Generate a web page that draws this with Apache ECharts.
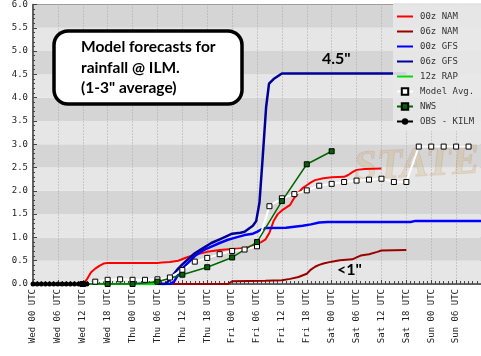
<!DOCTYPE html>
<html>
<head>
<meta charset="utf-8">
<script src="https://cdn.jsdelivr.net/npm/echarts@6/dist/echarts.min.js"></script>
<style>html,body{margin:0;padding:0;background:#fff;}#c{width:481px;height:356px;}</style>
</head>
<body>
<div id="c"></div>
<script>
// hours since Wed 00 UTC
const tickLabels = ['Wed 00 UTC','Wed 06 UTC','Wed 12 UTC','Wed 18 UTC','Thu 00 UTC','Thu 06 UTC','Thu 12 UTC','Thu 18 UTC','Fri 00 UTC','Fri 06 UTC','Fri 12 UTC','Fri 18 UTC','Sat 00 UTC','Sat 06 UTC','Sat 12 UTC','Sat 18 UTC','Sun 00 UTC','Sun 06 UTC'];
const seriesNames = ['00z NAM','06z NAM','00z GFS','06z GFS','12z RAP','Model Avg.','NWS','OBS - KILM'];

const nam00 = [[0,0],[12,0],[13,0.1],[14,0.25],[15,0.33],[16,0.39],[17,0.44],[18,0.45],[30,0.45],[31,0.46],[33,0.47],[35,0.5],[37,0.57],[39,0.63],[42,0.69],[45,0.73],[48,0.75],[51,0.77],[53,0.82],[54,0.86],[55,0.9],[56,0.95],[57,1.1],[58,1.35],[59,1.5],[60,1.58],[61,1.64],[62,1.7],[63,1.85],[64,1.96],[65,2.06],[66,2.12],[67,2.18],[68,2.23],[70,2.27],[72,2.29],[75,2.3],[76,2.34],[77,2.4],[78,2.45],[80,2.47],[84,2.48]];
const nam06 = [[30,0],[47,0],[48,0.06],[56,0.07],[60,0.08],[62,0.11],[64,0.15],[66,0.22],[67,0.31],[68,0.37],[69,0.41],[70,0.44],[72,0.48],[74,0.51],[77,0.53],[78,0.57],[79,0.61],[81,0.64],[83,0.69],[84,0.72],[90,0.73]];
const gfs00 = [[24,0],[33,0],[34,0.05],[35,0.2],[36,0.33],[37,0.42],[39,0.6],[41,0.72],[43,0.8],[45,0.88],[47,0.95],[49,1.0],[51,1.05],[53,1.08],[54,1.12],[55,1.17],[56,1.2],[61,1.21],[65,1.25],[67,1.28],[69,1.32],[71,1.33],[91,1.33],[92,1.35],[108,1.35]];
const gfs06 = [[30,0],[32,0],[33,0.1],[34,0.22],[35,0.33],[36,0.42],[38,0.58],[39,0.66],[41,0.77],[43,0.88],[45,0.96],[47,1.04],[48,1.08],[50,1.1],[51,1.12],[53,1.25],[53.8,1.35],[54.6,1.75],[55.4,2.75],[56.2,3.8],[56.9,4.3],[58,4.4],[60,4.52],[90,4.52]];
const rap12 = [[12,0],[18,0],[24,0],[30,0]];
const modelAvg = [[12,0],[15,0.05],[18,0.09],[21,0.1],[24,0.09],[27,0.09],[30,0.1],[33,0.14],[36,0.3],[39,0.48],[42,0.56],[45,0.64],[48,0.71],[51,0.74],[54,0.81],[57,1.67],[60,1.84],[63,1.93],[66,2.01],[69,2.11],[72,2.15],[75,2.19],[78,2.22],[81,2.24],[84,2.26],[87,2.19],[90,2.19],[93,2.95],[96,2.95],[99,2.95],[102,2.95],[105,2.95]];
const nws = [[12,0],[18,0],[24,0],[30,0.05],[36,0.2],[42,0.36],[48,0.57],[54,0.9],[60,1.78],[66,2.57],[72,2.85]];
const obs = [[0,0],[1,0],[2,0],[3,0],[4,0],[5,0],[6,0],[7,0],[8,0],[9,0],[10,0],[11,0],[12,0],[13,0]];

const mono = 'DejaVu Sans Mono';
const chart = echarts.init(document.getElementById('c'), null, {renderer:'canvas'});

function lineSeries(name, data, color, width, extra) {
  return Object.assign({
    name: name, type: 'line', data: data, symbol: 'none', showSymbol: false,
    lineStyle: {color: color, width: width}, itemStyle: {color: color},
    animation: false
  }, extra || {});
}
const noMark = {color: 'rgba(0,0,0,0)', borderWidth: 0};

chart.setOption({
  animation: false,
  backgroundColor: '#fff',
  grid: {left: 33, top: 3, right: -11, bottom: 72, show: true, borderColor: '#666', borderWidth: 1},
  xAxis: {
    type: 'value', min: 0, max: 108, interval: 6,
    axisLine: {show: true, lineStyle: {color: '#444', width: 1.5}},
    axisTick: {show: true, inside: true, length: 4, lineStyle: {color: '#444'}},
    minorTick: {show: true, splitNumber: 6, length: 3, lineStyle: {color: '#444'}},
    splitLine: {show: true, lineStyle: {color: '#a8a8a8', type: [1, 2], width: 1}},
    axisLabel: {
      rotate: 90, fontFamily: mono, fontSize: 9, color: '#222', margin: 5,
      formatter: function (v) { const i = v / 6; return (Number.isInteger(i) && i < tickLabels.length) ? tickLabels[i] : ''; }
    }
  },
  yAxis: {
    type: 'value', min: 0, max: 6, interval: 0.5,
    axisLine: {show: true, lineStyle: {color: '#444', width: 1.5}},
    axisTick: {show: true, inside: true, length: 4, lineStyle: {color: '#444'}},
    minorTick: {show: true, splitNumber: 5, length: 2, lineStyle: {color: '#444'}},
    splitLine: {show: false},
    splitArea: {show: true, areaStyle: {color: ['#e6e6e6', '#d5d5d5']}},
    axisLabel: {fontFamily: mono, fontSize: 9, color: '#222', margin: 5, formatter: function (v) { return v.toFixed(1); }}
  },
  legend: {
    orient: 'vertical', left: 393, top: 3, width: 90,
    padding: [9, 12, 5, 3], itemWidth: 16, itemHeight: 8, itemGap: 6,
    backgroundColor: 'rgba(232,232,232,0.9)',
    textStyle: {fontFamily: mono, fontSize: 9, color: '#333', padding: [0, 0, 0, 2]},
    data: [
      {name: seriesNames[0], itemStyle: noMark},
      {name: seriesNames[1], itemStyle: noMark},
      {name: seriesNames[2], itemStyle: noMark},
      {name: seriesNames[3], itemStyle: noMark},
      {name: seriesNames[4], itemStyle: noMark},
      {name: seriesNames[5]},
      {name: seriesNames[6]},
      {name: seriesNames[7]}
    ]
  },
  graphic: [
    {type: 'text', z: 1, left: 352, top: 140, rotation: 0.06,
      style: {text: 'STATE', font: 'italic bold 42px "Liberation Serif"', fill: 'rgba(205,170,90,0.22)', stroke: 'rgba(170,60,40,0.12)', lineWidth: 1}},
    {type: 'rect', z: 100, shape: {x: 54, y: 31, width: 188, height: 73, r: 14},
      style: {fill: '#fff', stroke: '#000', lineWidth: 3.5}},
    {type: 'text', z: 101, left: 81, top: 37,
      style: {text: 'Model forecasts for\nrainfall @ ILM.\n(1-3" average)', font: 'bold 15.5px Lato', fill: '#000', lineHeight: 20.5}},
    {type: 'text', z: 101, left: 322, top: 51,
      style: {text: '4.5"', font: 'bold 16px Lato', fill: '#000'}},
    {type: 'text', z: 101, left: 337, top: 262,
      style: {text: '<1"', font: 'bold 16px Lato', fill: '#000'}}
  ],
  series: [
    lineSeries(seriesNames[0], nam00, '#ff0000', 2),
    lineSeries(seriesNames[1], nam06, '#990000', 2),
    lineSeries(seriesNames[2], gfs00, '#0000ff', 2.5),
    lineSeries(seriesNames[3], gfs06, '#000099', 2.5),
    lineSeries(seriesNames[4], rap12, '#00dd00', 2),
    lineSeries(seriesNames[5], modelAvg, '#ffffff', 2, {
      symbol: 'rect', showSymbol: true, symbolSize: 5,
      itemStyle: {color: '#ffffff', borderColor: '#000', borderWidth: 1}
    }),
    lineSeries(seriesNames[6], nws, '#006600', 1.5, {
      symbol: 'rect', showSymbol: true, symbolSize: 5,
      itemStyle: {color: '#006600', borderColor: '#000', borderWidth: 1}
    }),
    lineSeries(seriesNames[7], obs, '#000000', 2, {
      symbol: 'circle', showSymbol: true, symbolSize: 5,
      itemStyle: {color: '#000'}
    })
  ]
});
</script>
</body>
</html>
